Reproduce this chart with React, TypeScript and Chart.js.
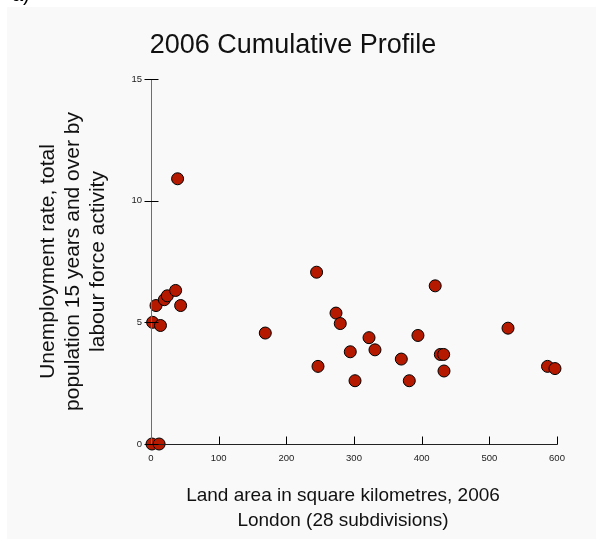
import { useEffect, useRef } from 'react';
import { Chart, registerables } from 'chart.js';

Chart.register(...registerables);

// Land area (km²) and unemployment rate (%) for the London subdivisions
const landArea = [1.5, 12, 2.4, 14, 7.4, 19.7, 24.1, 36.4, 43.8, 39.3, 168.9, 244.7, 273.4, 279.7, 246.8, 322.2, 294.5, 331, 301.5, 369.9, 394.5, 381.7, 420, 527.6, 427.6, 432.5, 433, 586, 597];
const unemploymentRate = [0, 0, 5.0, 4.87, 5.69, 5.93, 6.09, 6.31, 5.69, 10.9, 4.56, 7.06, 5.38, 4.95, 3.19, 4.37, 3.79, 3.87, 2.6, 3.49, 4.46, 2.6, 6.5, 4.76, 3.68, 3.68, 3.0, 3.19, 3.1];

const xTickValues = [0, 100, 200, 300, 400, 500, 600];
const yTickValues = [0, 5, 10, 15];

const panelLabel = 'a)';
const chartTitle = '2006 Cumulative Profile';
const xTitle = ['Land area in square kilometres, 2006', 'London (28 subdivisions)'];
const yTitle = ['Unemployment rate, total', 'population 15 years and over by', 'labour force activity'];

const FONT = '"Liberation Sans", Arial, sans-serif';

export default function App() {
  const ref = useRef<HTMLCanvasElement>(null);

  useEffect(() => {
    const canvas = ref.current;
    if (!canvas) return;
    const points = landArea.map((x, i) => ({ x, y: unemploymentRate[i] }));

    const decor = {
      id: 'decor',
      beforeDraw(chart: any) {
        const { ctx, width, height } = chart;
        ctx.save();
        ctx.fillStyle = '#ffffff';
        ctx.fillRect(0, 0, width, height);
        ctx.fillStyle = '#f9f9f9';
        ctx.fillRect(7, 7, width - 7, height - 7);
        ctx.fillStyle = '#000000';
        ctx.textAlign = 'left';
        ctx.textBaseline = 'alphabetic';
        ctx.font = `20px ${FONT}`;
        ctx.fillText(panelLabel, 12, 1);
        ctx.fillStyle = '#111111';
        ctx.textAlign = 'center';
        ctx.font = `27px ${FONT}`;
        ctx.fillText(chartTitle, 293, 53);
        ctx.font = `19px ${FONT}`;
        xTitle.forEach((t, i) => ctx.fillText(t, 343, 501 + i * 24.5));
        ctx.restore();
      },
      afterDatasetsDraw(chart: any) {
        const { ctx } = chart;
        const xs = chart.scales.x;
        const ys = chart.scales.y;
        const ax = Math.round(xs.getPixelForValue(0)) + 0.5;
        const ay = Math.round(ys.getPixelForValue(0)) + 0.5;
        ctx.save();
        ctx.lineWidth = 1;
        // y axis
        ctx.strokeStyle = '#6e6e6e';
        ctx.beginPath();
        ctx.moveTo(ax, Math.round(ys.getPixelForValue(15)));
        ctx.lineTo(ax, ay);
        ctx.stroke();
        // x axis
        ctx.strokeStyle = '#222222';
        ctx.beginPath();
        ctx.moveTo(ax, ay);
        ctx.lineTo(Math.round(xs.getPixelForValue(600)) + 0.5, ay);
        ctx.stroke();
        // ticks
        ctx.strokeStyle = '#000000';
        ctx.beginPath();
        yTickValues.forEach((v) => {
          const py = Math.round(ys.getPixelForValue(v)) + 0.5;
          ctx.moveTo(ax - 7, py);
          ctx.lineTo(ax + 7, py);
        });
        xTickValues.forEach((v) => {
          if (v === 0) return;
          const px = Math.round(xs.getPixelForValue(v)) + 0.5;
          ctx.moveTo(px, ay - 8);
          ctx.lineTo(px, ay);
        });
        ctx.stroke();
        ctx.restore();
      },
    };

    const chart = new Chart(canvas, {
      type: 'scatter',
      data: {
        datasets: [
          {
            data: points,
            backgroundColor: '#b51a00',
            borderColor: '#000000',
            borderWidth: 1,
            pointRadius: 6,
            pointHoverRadius: 6,
            clip: false,
          },
        ],
      },
      options: {
        responsive: false,
        animation: false,
        devicePixelRatio: 1,
        layout: { padding: { top: 79, right: 39, bottom: 0, left: 0 } },
        plugins: {
          legend: { display: false },
          title: { display: false },
          tooltip: { enabled: false },
        },
        scales: {
          x: {
            type: 'linear',
            min: 0,
            max: 600,
            afterFit: (s: any) => {
              s.height = 95;
            },
            afterBuildTicks: (s: any) => {
              s.ticks = xTickValues.map((v) => ({ value: v }));
            },
            grid: { display: false, drawTicks: false, tickLength: 0 },
            border: { display: false },
            ticks: {
              padding: 9,
              color: '#222222',
              font: { family: FONT, size: 9.5 },
              maxRotation: 0,
            },
            title: { display: false },
          },
          y: {
            type: 'linear',
            min: 0,
            max: 15,
            afterFit: (s: any) => {
              s.width = 151;
            },
            afterBuildTicks: (s: any) => {
              s.ticks = yTickValues.map((v) => ({ value: v }));
            },
            grid: { display: false, drawTicks: false, tickLength: 0 },
            border: { display: false },
            ticks: {
              padding: 9,
              color: '#222222',
              font: { family: FONT, size: 9.5 },
            },
            title: {
              display: true,
              text: yTitle,
              color: '#111111',
              font: { family: FONT, size: 21, lineHeight: 1.18 },
              padding: { top: 36, bottom: 0 },
            },
          },
        },
      },
      plugins: [decor],
    });

    return () => chart.destroy();
  }, []);

  return (
    <div style={{ position: 'absolute', left: 0, top: 0, width: 596, height: 539 }}>
      <canvas ref={ref} width={596} height={539} style={{ display: 'block' }} />
    </div>
  );
}
